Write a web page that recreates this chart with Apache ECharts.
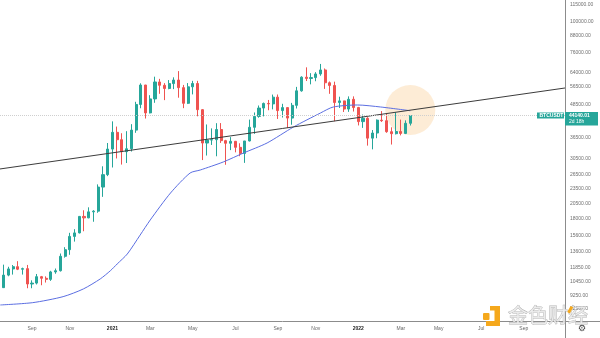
<!DOCTYPE html>
<html>
<head>
<meta charset="utf-8">
<script src="https://cdn.jsdelivr.net/npm/echarts@6/dist/echarts.min.js"></script>
<style>
  html, body { margin: 0; padding: 0; background: #ffffff; }
  #chart { width: 600px; height: 338px; }
</style>
</head>
<body>
<div id="chart"></div>
<script>
// BTCUSDT weekly candles, first bar = week of 2020-07-20 (Mondays)
const firstWeek = '2020-07-20';
const open = [
  9160, 9930, 11070, 11680, 11910, 11650, 11710, 10250, 10330, 10920, 10770, 10670,
  11380, 11500, 13030, 13800, 15480, 15960, 18410, 18180, 19150, 19270, 23740, 26440,
  33000, 38150, 35790, 32260, 33090, 38890, 48580, 57490, 45140, 50970, 59020, 57350, 55790,
  58200, 60020, 56200, 49060, 56600, 58240, 46430, 34770, 35680, 35800, 39100, 35500, 34700,
  35290, 33500, 31780, 35400, 39850, 43800, 47080, 49000, 48810, 51750, 46060, 47260, 43170,
  48200, 54660, 61530, 60850, 61300, 63270, 65500, 58620, 57270, 49400, 50100, 46680, 50800,
  47290, 41860, 43080, 36280, 37920, 42410, 42200, 38360, 37700, 38420, 37780, 41260
];
const close = [
  9930, 11070, 11680, 11910, 11650, 11710, 10250, 10330, 10920, 10770, 10670, 11380,
  11500, 13030, 13800, 15480, 15960, 18410, 18180, 19150, 19270, 23740, 26440, 33000,
  38150, 35790, 32260, 33090, 38890, 48580, 57490, 45140, 50970, 59020, 57350, 55790, 58200,
  60020, 56200, 49060, 56600, 58240, 46430, 34770, 35680, 35800, 39100, 35500, 34700, 35290,
  33500, 31780, 35400, 39850, 43800, 47080, 49000, 48810, 51750, 46060, 47260, 43170, 48200,
  54660, 61530, 60850, 61300, 63270, 65500, 58620, 57270, 49400, 50100, 46680, 50800, 47290,
  41860, 43080, 36280, 37920, 42410, 42200, 38360, 37700, 38420, 37780, 41260, 44140.01
];
const high = [
  10150, 12120, 11900, 12080, 12490, 11810, 12090, 10580, 11180, 10990, 10950, 11490,
  11720, 13350, 14100, 15970, 16480, 18480, 19420, 19920, 19430, 24300, 28420, 34780,
  41950, 40100, 37850, 38530, 40950, 49710, 58350, 57530, 52640, 61790, 60630, 58420, 60000,
  61440, 64850, 57530, 58460, 59600, 59600, 46680, 40840, 39480, 41300, 41330, 35750, 36600,
  35400, 34700, 35400, 42600, 45310, 48140, 49380, 50500, 52920, 52950, 48850, 47370, 49230,
  56560, 62000, 67000, 63710, 64270, 69000, 66340, 59270, 59180, 51950, 50170, 52090, 52100,
  47570, 44500, 43500, 38920, 42650, 45850, 44750, 39850, 45400, 42600, 42330, 44300
];
const low = [
  9040, 9900, 10960, 11120, 11560, 11120, 9880, 9880, 10210, 10140, 10380, 10530,
  11200, 11420, 12880, 13200, 14800, 15890, 16190, 18120, 17580, 19000, 21810, 26100,
  28130, 30420, 28850, 29240, 32300, 37990, 47000, 43000, 44950, 49270, 53270, 50430, 55400,
  55470, 51500, 47040, 48750, 53000, 43830, 30000, 31200, 34200, 31000, 34800, 28800, 32700,
  32080, 31020, 29280, 35260, 37640, 43300, 43800, 46200, 46550, 42840, 43370, 39600, 40750,
  46900, 54250, 59510, 57820, 59400, 62300, 55580, 53260, 42000, 47100, 45500, 45560, 45680,
  40500, 39650, 34000, 32920, 36250, 41750, 38000, 34320, 37450, 37160, 37580, 40470
];

// Moving average (blue), sampled along its path
const maDates = [
  '2020-07-22', '2020-09-08', '2020-10-23', '2020-11-22', '2020-12-17', '2021-01-01',
  '2021-01-11', '2021-01-26', '2021-02-14', '2021-03-01', '2021-03-31', '2021-04-29',
  '2021-05-14', '2021-06-17', '2021-07-17', '2021-08-21', '2021-09-29', '2021-11-08',
  '2021-11-27', '2022-01-02', '2022-02-05', '2022-03-21'
];
const maValues = [
  8546, 8720, 9185, 9820, 10710, 11500,
  12190, 13290, 15660, 17850, 22550, 26820,
  27520, 29500, 31890, 34790, 39950, 45110,
  47520, 48350, 47520, 46000
];

// Hand-drawn trendline end points
const trendDates = ['2020-07-21', '2022-11-05'];
const trendValues = [27760, 56020];

// Highlight circle around the current price zone
const circleDate = '2022-03-21';
const circleValue = 46300;

const lastPrice = 44140.01;
const countdown = '2d 18h';
const symbolName = 'BTCUSDT';

const priceTicks = [8250, 9250, 10450, 11850, 13600, 15600, 18000, 20500, 23500, 26500,
  30500, 36500, 48500, 56500, 64000, 76000, 88000, 100000, 115000];
const timeTicks = ['2020-09-07', '2020-11-02', '2021-01-04', '2021-03-01', '2021-05-03',
  '2021-07-05', '2021-09-06', '2021-11-01', '2022-01-03', '2022-03-07', '2022-05-02',
  '2022-07-04', '2022-09-05'];
const monthNames = ['Jan', 'Feb', 'Mar', 'Apr', 'May', 'Jun', 'Jul', 'Aug', 'Sep', 'Oct', 'Nov', 'Dec'];

const UP = '#26a69a';
const DOWN = '#ef5350';
const DAY = 24 * 3600 * 1000;

function toTime(s) { return Date.UTC(+s.slice(0, 4), +s.slice(5, 7) - 1, +s.slice(8, 10)); }

const t0 = toTime(firstWeek);
const candles = open.map((o, i) => [t0 + i * 7 * DAY, o, close[i], low[i], high[i]]);

const chart = echarts.init(document.getElementById('chart'), null, { renderer: 'canvas' });

const option = {
  animation: false,
  backgroundColor: '#ffffff',
  grid: { left: 0, right: 35, top: 0, bottom: 17 },
  xAxis: {
    type: 'value',
    min: toTime('2020-07-21') + 14 * 3600 * 1000,
    max: toTime('2022-11-05'),
    axisLine: { show: true, lineStyle: { color: '#8c8c8c', width: 1 } },
    axisTick: { show: false },
    splitLine: { show: false },
    axisLabel: {
      customValues: timeTicks.map(toTime),
      fontSize: 5,
      fontFamily: 'Liberation Sans',
      color: '#666',
      margin: 5,
      formatter: function (v) {
        const d = new Date(v);
        if (d.getUTCMonth() === 0) return '{y|' + d.getUTCFullYear() + '}';
        return monthNames[d.getUTCMonth()];
      },
      rich: { y: { fontSize: 5, fontFamily: 'Liberation Sans', color: '#222', fontWeight: 'bold' } }
    }
  },
  yAxis: {
    type: 'log',
    position: 'right',
    min: 7438,
    max: 120090,
    axisLine: { show: true, lineStyle: { color: '#8c8c8c', width: 1 } },
    axisTick: { show: false },
    splitLine: { show: false },
    axisLabel: {
      customValues: priceTicks,
      fontSize: 5,
      fontFamily: 'Liberation Sans',
      color: '#6f6f6f',
      margin: 5,
      formatter: v => Number(v).toFixed(2)
    }
  },
  series: [
    {
      type: 'scatter',
      z: 1,
      silent: true,
      symbol: 'circle',
      symbolSize: 50,
      itemStyle: { color: '#fde9cf', opacity: 0.85 },
      data: [[toTime(circleDate), circleValue]]
    },
    {
      type: 'line',
      z: 3,
      showSymbol: false,
      smooth: 0.25,
      lineStyle: { color: '#5b6ee1', width: 1 },
      data: maDates.map((d, i) => [toTime(d), maValues[i]])
    },
    {
      type: 'line',
      z: 4,
      showSymbol: false,
      lineStyle: { color: '#3c3c3c', width: 1 },
      data: trendDates.map((d, i) => [toTime(d), trendValues[i]])
    },
    {
      type: 'candlestick',
      z: 2,
      clip: true,
      barWidth: 2.6,
      encode: { x: 0, y: [1, 2, 3, 4] },
      itemStyle: {
        color: UP, color0: DOWN,
        borderColor: UP, borderColor0: DOWN,
        borderWidth: 1
      },
      data: candles,
      markLine: {
        silent: true,
        symbol: ['none', 'none'],
        label: { show: false },
        lineStyle: { color: '#cfcfcf', type: 'dotted', width: 1 },
        data: [{ yAxis: lastPrice }]
      }
    }
  ]
};
chart.setOption(option);

// Price tag on the axis and symbol tag, placed from the price scale
const py = chart.convertToPixel({ yAxisIndex: 0 }, lastPrice);
chart.setOption({
  graphic: [
    { type: 'rect', shape: { x: 565, y: py - 3.5, width: 33, height: 13.5 }, style: { fill: UP }, z: 10 },
    { type: 'text', x: 569, y: py - 2.8, style: { text: lastPrice.toFixed(2), fill: '#ffffff', fontSize: 5, fontFamily: 'Liberation Sans', fontWeight: 'bold' }, z: 11 },
    { type: 'text', x: 569, y: py + 3.4, style: { text: countdown, fill: '#ffffff', fontSize: 5, fontFamily: 'Liberation Sans' }, z: 11 },
    { type: 'rect', shape: { x: 537, y: py - 3, width: 27, height: 6 }, style: { fill: UP }, z: 10 },
    { type: 'text', x: 539.5, y: py - 2.6, style: { text: symbolName, fill: '#ffffff', fontSize: 5, fontFamily: 'Liberation Sans', fontWeight: 'bold' }, z: 11 },
    // axis borders continuing past the plot corner
    { type: 'line', shape: { x1: 565, y1: 321.5, x2: 600, y2: 321.5 }, style: { stroke: '#8c8c8c', lineWidth: 1 }, z: 5 },
    { type: 'line', shape: { x1: 565.5, y1: 321, x2: 565.5, y2: 338 }, style: { stroke: '#8c8c8c', lineWidth: 1 }, z: 5 },
    { type: 'text', x: 578, y: 324, style: { text: '⚙', fill: '#444', fontSize: 9, fontFamily: 'DejaVu Sans' }, z: 5 },
    // watermark
    { type: 'rect', shape: { x: 483, y: 313, width: 6.5, height: 7, r: 1 }, style: { fill: '#f5a81c' }, z: 20 },
    { type: 'polygon', shape: { points: [[490, 306], [500, 306], [500, 326], [486, 326], [486, 321], [494.5, 321], [494.5, 310.5], [490, 310.5]] }, style: { fill: '#f5a81c' }, z: 20 },
    { type: 'text', x: 508, y: 305, style: { text: '金色财经', fontSize: 20, fontFamily: 'Noto Sans CJK SC', fill: 'rgba(236,236,236,0.85)', stroke: '#b5b5b5', lineWidth: 0.8 }, z: 20 },
    { type: 'rect', shape: { x: 569, y: 306, width: 3, height: 7 }, rotation: -0.5, originX: 570, originY: 309, style: { fill: '#f5a81c' }, z: 21 }
  ]
});
</script>
</body>
</html>
